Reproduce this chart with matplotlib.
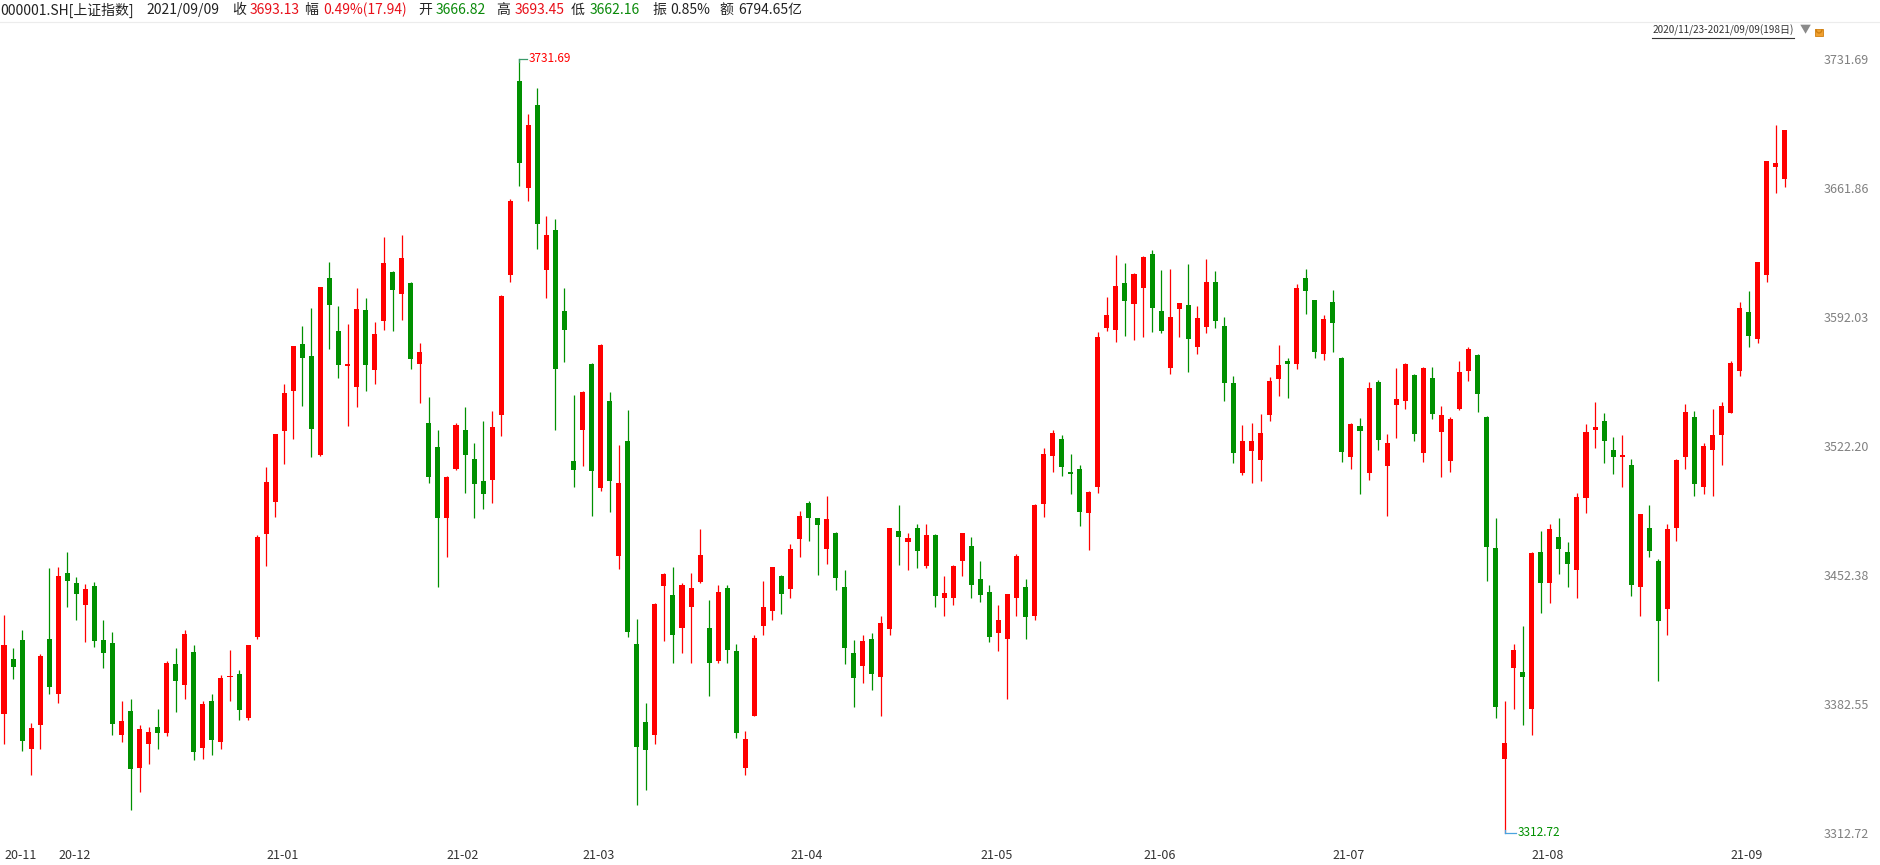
import matplotlib
matplotlib.use('Agg')
import matplotlib.pyplot as plt
from matplotlib.patches import Rectangle, Arc
import numpy as np

plt.rcParams['font.family'] = ['Noto Sans CJK SC', 'DejaVu Sans']

# ---------------- data ----------------
opens = [
    # 2020-11
    3377, 3407, 3417, 3358, 3371, 3417.7,
    # 2020-12
    3388, 3453.5, 3448.1, 3436.3, 3446.4, 3417.2, 3415.6, 3366, 3379, 3348, 3361, 3370,
    3367, 3404, 3393, 3410.7, 3359, 3384, 3362, 3397, 3399, 3375, 3419,
    # 2021-01
    3474.7, 3492, 3530.5, 3552.2, 3577.4, 3570.9, 3517.5, 3613.2, 3584.5, 3565.6,
    3554.3, 3595.8, 3563.6, 3590.0, 3616.4, 3604.7, 3610.4, 3566.8, 3534.7, 3521.7,
    # 2021-02
    3483, 3509.9, 3530.9, 3515, 3503, 3504.0, 3539.2, 3615, 3720, 3662, 3707, 3617.5,
    3639, 3595.3, 3514.1,
    # 2021-03
    3531.0, 3566.6, 3499.7, 3546.6, 3462.8, 3524.9, 3415.1, 3373, 3366, 3446.6, 3441.5,
    3423.9, 3435.2, 3448.8, 3423.7, 3406, 3445.3, 3411, 3348, 3376, 3425, 3433, 3451.8,
    # 2021-04
    3445, 3471.9, 3491.4, 3483.2, 3466.6, 3475.1, 3445.9, 3410, 3403, 3418, 3397, 3423,
    3476, 3470, 3478, 3457, 3474, 3440, 3440, 3460, 3468,
    # 2021-05
    3450, 3443, 3421, 3418, 3440, 3446, 3430, 3491, 3517, 3526, 3508, 3510, 3486, 3500,
    3586.1, 3585.0, 3610.4, 3599.1,
    # 2021-06
    3607.7, 3626.1, 3595.3, 3564.4, 3596.4, 3598.5, 3575.8, 3586.6, 3611, 3587.2, 3556.3,
    3507.6, 3519.5, 3514.6, 3539.0, 3558.5, 3568.2, 3566.6, 3613, 3601.2, 3572.0,
    # 2021-07
    3600.2, 3569.8, 3516.3, 3533.0, 3507.6, 3556.9, 3511.4, 3544.4, 3546.6, 3560.6, 3518.4,
    3559.0, 3529.8, 3514.1, 3542.2, 3562.8, 3571.5, 3537.9, 3467.0, 3353, 3402, 3400,
    # 2021-08
    3380, 3465, 3448, 3473, 3465, 3455, 3494, 3531, 3536, 3520, 3516, 3512, 3446, 3478,
    3460, 3434, 3478, 3516, 3538, 3500, 3520, 3528,
    # 2021-09
    3540, 3563, 3595, 3580, 3615, 3673, 3666.82,
]
highs = [
    3430.7, 3412.7, 3422.6, 3372, 3409.5, 3456.2,
    3456.7, 3464.8, 3451.3, 3447.5, 3448.6, 3428.0, 3421.5, 3384, 3385, 3371, 3370, 3380,
    3406, 3412.9, 3422.6, 3414.5, 3384, 3388, 3398, 3411.8, 3401, 3414.5, 3474,
    3511.0, 3528.9, 3555.8, 3576.4, 3587.2, 3596.9, 3608.5, 3621.8, 3598.0, 3588.3,
    3607.7, 3602.3, 3589.3, 3635.3, 3616.9, 3636.4, 3610.9, 3578.0, 3548.7, 3530.9,
    3506, 3534.7, 3543.3, 3523.8, 3535.8, 3541.2, 3603.8, 3655.8, 3731.69, 3702, 3716,
    3646.6, 3645, 3607.7, 3549.8,
    3552.0, 3567.0, 3577.2, 3551.4, 3522.8, 3541.7, 3428.6, 3383, 3437.2, 3453.5, 3456.7,
    3448.1, 3453.5, 3477.3, 3438.8, 3447, 3447, 3415, 3368, 3420, 3449.1, 3456.7, 3452.2,
    3469.2, 3487.0, 3492.4, 3483.5, 3495.1, 3475.4, 3455.1, 3417, 3420, 3421, 3430, 3478,
    3490, 3475, 3480, 3480, 3474.5, 3452, 3458, 3475, 3473,
    3460, 3447, 3436, 3442, 3464, 3450, 3491, 3521, 3531, 3528, 3518, 3512, 3498, 3583.9,
    3602.9, 3625.6, 3621.3, 3615.8,
    3625.1, 3628.3, 3617.5, 3618.0, 3599.8, 3620.7, 3598.0, 3623.4, 3617, 3592.0, 3560.1,
    3533.6, 3534.7, 3539.5, 3559.6, 3576.9, 3569.8, 3610, 3618, 3601.5, 3593.1,
    3606.7, 3570.2, 3534.5, 3537.4, 3556.9, 3557.9, 3528.7, 3564.4, 3566.9, 3561.0, 3565.0,
    3565.0, 3543.9, 3537.9, 3568.2, 3575.8, 3571.8, 3538.2, 3483.2, 3384, 3415, 3425,
    3465, 3476, 3480, 3483, 3470, 3497, 3534, 3546, 3540, 3527, 3528, 3515, 3485.5, 3490,
    3461, 3480, 3515, 3545, 3541, 3524, 3542, 3546,
    3568, 3600, 3606, 3622, 3676.7, 3696, 3693.45,
]
lows = [
    3361, 3396, 3357, 3344, 3358, 3388,
    3383, 3435.2, 3428.0, 3416.3, 3413.6, 3402.2, 3366, 3362, 3325, 3335, 3350, 3358,
    3365, 3378, 3385, 3352, 3353, 3355, 3358, 3384, 3374, 3374, 3418,
    3457, 3484, 3512.6, 3526.2, 3544.0, 3516.4, 3516.8, 3574.7, 3559.2, 3533.2,
    3543.5, 3552.2, 3556.0, 3585.2, 3584.6, 3590.6, 3564.0, 3545.7, 3502, 3446,
    3462, 3509, 3497, 3483, 3488, 3491.5, 3527.8, 3611, 3663, 3655, 3629, 3602.5,
    3531, 3567.9, 3500.2,
    3511.5, 3484.5, 3498.0, 3486.7, 3455.8, 3419, 3328, 3336, 3361, 3416.8, 3405,
    3410, 3405, 3448.0, 3387, 3405, 3405, 3364, 3344, 3376, 3420, 3428, 3431,
    3440, 3462.3, 3471.0, 3452.6, 3458.5, 3444.3, 3404, 3381, 3394, 3390, 3376, 3420,
    3458, 3455, 3456, 3456, 3435, 3430, 3436, 3452, 3440,
    3438, 3416, 3411, 3385, 3430, 3418, 3428, 3484, 3508, 3506, 3496, 3479, 3466, 3497,
    3584.5, 3578.5, 3581.8, 3579.6,
    3581.2, 3583.9, 3583.4, 3561.2, 3581.2, 3562.3, 3572.0, 3583.4, 3586.1, 3546.6, 3513.0,
    3506.5, 3502.4, 3503.3, 3535.7, 3549.3, 3548.2, 3563.9, 3593.7, 3569.8, 3568.8,
    3573.1, 3513.5, 3509.8, 3496.2, 3503.8, 3520.0, 3484.3, 3526.5, 3542.2, 3524.9, 3513.5,
    3536.8, 3505.4, 3508.1, 3541.9, 3557.4, 3540.6, 3449, 3375, 3312.72, 3380, 3371,
    3366, 3432, 3437, 3453, 3446, 3440, 3486, 3521, 3513, 3507, 3500, 3441, 3430, 3462,
    3395, 3420, 3471, 3510, 3495, 3496, 3495, 3512,
    3540, 3560, 3576, 3578, 3611, 3659, 3662.16,
]
closes = [
    3414.49, 3402.82, 3362.33, 3369.73, 3408.31, 3391.76,
    3451.94, 3449.38, 3442.14, 3444.58, 3416.60, 3410.18, 3371.96, 3373.28, 3347.19,
    3369.12, 3367.23, 3366.98, 3404.87, 3394.90, 3420.57, 3356.78, 3382.32, 3363.11,
    3396.56, 3397.29, 3379.04, 3414.45, 3473.07,
    3502.96, 3528.68, 3550.88, 3576.20, 3570.11, 3531.50, 3608.34, 3598.65, 3565.90,
    3566.38, 3596.22, 3566.28, 3583.09, 3621.26, 3606.75, 3624.24, 3569.43, 3573.34,
    3505.18, 3483.07,
    3505.28, 3533.68, 3517.31, 3501.86, 3496.33, 3532.44, 3603.49, 3655.09, 3675.36,
    3696.17, 3642.44, 3636.36, 3564.08, 3585.05, 3509.08,
    3551.40, 3508.59, 3576.90, 3503.49, 3501.99, 3421.41, 3359.29, 3357.74, 3436.83,
    3453.08, 3419.95, 3446.73, 3445.55, 3463.07, 3404.66, 3443.44, 3411.51, 3367.06,
    3363.59, 3418.33, 3435.30, 3456.68, 3441.91,
    3466.33, 3484.39, 3482.97, 3479.63, 3482.55, 3450.68, 3412.95, 3396.47, 3416.91,
    3398.99, 3426.62, 3477.55, 3472.94, 3472.30, 3465.11, 3474.17, 3441.17, 3442.61,
    3457.07, 3474.90, 3446.86,
    3441.28, 3418.87, 3427.99, 3441.85, 3462.75, 3429.54, 3490.38, 3517.62, 3529.01,
    3510.96, 3506.94, 3486.56, 3497.28, 3581.34, 3593.36, 3608.85, 3600.78, 3615.48,
    3624.71, 3597.14, 3584.22, 3591.84, 3599.54, 3580.11, 3591.40, 3610.86, 3589.75,
    3556.56, 3518.33, 3525.10, 3525.10, 3529.18, 3557.41, 3566.22, 3566.65, 3607.56,
    3606.37, 3573.18, 3591.20,
    3588.78, 3518.76, 3534.32, 3530.26, 3553.72, 3525.50, 3524.09, 3547.84, 3566.59,
    3528.50, 3564.59, 3539.30, 3539.12, 3536.79, 3562.02, 3574.73, 3550.40, 3467.44,
    3381.18, 3361.59, 3411.72, 3397.36,
    3464.29, 3447.99, 3477.22, 3466.56, 3458.23, 3494.63, 3529.93, 3532.62, 3524.74,
    3516.30, 3517.34, 3446.98, 3485.29, 3465.55, 3427.33, 3477.13, 3514.47, 3540.38,
    3501.66, 3522.16, 3528.15, 3543.94,
    3567.10, 3597.04, 3581.73, 3621.86, 3676.59, 3675.19, 3693.13,
]
month_labels = ['20-11', '20-12', '21-01', '21-02', '21-03', '21-04', '21-05', '21-06',
                '21-07', '21-08', '21-09']
month_days = [6, 23, 20, 15, 23, 21, 18, 21, 22, 22, 7]
y_ticks = [3731.69, 3661.86, 3592.03, 3522.20, 3452.38, 3382.55, 3312.72]
y_tick_labels = ['3731.69', '3661.86', '3592.03', '3522.20', '3452.38', '3382.55', '3312.72']
header_items = [
    ('000001.SH[上证指数]', 'dark'), ('2021/09/09', 'dark'),
    ('收', 'dark'), ('3693.13', 'red'), ('幅', 'dark'), ('0.49%(17.94)', 'red'),
    ('开', 'dark'), ('3666.82', 'green'), ('高', 'dark'), ('3693.45', 'red'),
    ('低', 'dark'), ('3662.16', 'green'), ('振', 'dark'), ('0.85%', 'dark'),
    ('额', 'dark'), ('6794.65亿', 'dark'),
]
period_label = '2020/11/23-2021/09/09(198日)'

# ---------------- styles ----------------
RED = '#ff0000'
GREEN = '#009000'
DARK = '#333333'
GRAY = '#808080'
hdr_colors = {'dark': '#222222', 'red': '#e8101a', 'green': '#0a8a0a'}
hdr_x = [0, 146, 232, 250, 304, 323, 418, 436, 496, 515, 571, 590, 652, 670, 719, 738]

W, H = 1880, 865
fig = plt.figure(figsize=(W / 100, H / 100), dpi=100)
fig.patch.set_facecolor('white')

# main price axes (pixel layout)
ax_l, ax_r, ax_t, ax_b = 0, 1806, 40, 846
ax = fig.add_axes([ax_l / W, 1 - ax_b / H, (ax_r - ax_l) / W, (ax_b - ax_t) / H])
px_per_price = (833 - 59) / (y_ticks[0] - y_ticks[-1])
ax.set_ylim(y_ticks[-1] - (ax_b - 833) / px_per_price, y_ticks[0] + (59 - ax_t) / px_per_price)
step = 9.04
ax.set_xlim((ax_l - 4) / step, (ax_r - 4) / step)

o = np.array(opens, float)
h = np.array(highs, float)
l = np.array(lows, float)
c = np.array(closes, float)
idx = np.arange(len(c))
up = c >= o
cols = np.where(up, RED, GREEN)

ax.vlines(idx, l, h, colors=cols, linewidth=0.9, zorder=2)
body_bottom = np.minimum(o, c)
body_h = np.maximum(np.abs(c - o), 1.2 / px_per_price)
ax.bar(idx, body_h, bottom=body_bottom, width=0.56, color=cols, linewidth=0, zorder=3)

for s in ax.spines.values():
    s.set_visible(False)

# y labels on right
ax.yaxis.tick_right()
ax.set_yticks(y_ticks, labels=y_tick_labels)
ax.tick_params(axis='y', length=0, pad=13, labelsize=9, labelcolor=GRAY)

# x labels at first trading day of each month (left aligned)
starts = np.concatenate([[0], np.cumsum(month_days)[:-1]])
ax.set_xticks(starts, labels=month_labels)
for t in ax.get_xticklabels():
    t.set_ha('left')
ax.tick_params(axis='x', length=0, pad=2, labelsize=9, labelcolor=DARK)

# high / low markers
i_hi = int(np.argmax(h))
i_lo = int(np.argmin(l))
ax.plot([i_hi, i_hi + 0.9], [h[i_hi], h[i_hi]], color='#3a9a6a', lw=0.9, zorder=4)
ax.plot([i_hi, i_hi], [h[i_hi], h[i_hi] - 1.5], color='#3a9a6a', lw=0.9, zorder=4)
ax.text(i_hi + 1.0, h[i_hi], f'{h[i_hi]:.2f}', color=RED, fontsize=8.5, va='center', ha='left')
ax.plot([i_lo, i_lo + 1.3], [l[i_lo], l[i_lo]], color='#4aa3df', lw=0.9, zorder=4)
ax.plot([i_lo, i_lo], [l[i_lo], l[i_lo] + 1.5], color='#4aa3df', lw=0.9, zorder=4)
ax.text(i_lo + 1.4, l[i_lo], f'{l[i_lo]:.2f}', color=GREEN, fontsize=8.5, va='center', ha='left')

# overlay for header & decorations in pixel coordinates
ov = fig.add_axes([0, 0, 1, 1], zorder=5)
ov.set_xlim(0, W)
ov.set_ylim(H, 0)
ov.axis('off')
ov.patch.set_alpha(0)

for (txt, kind), x in zip(header_items, hdr_x):
    ov.text(x, 10, txt, color=hdr_colors[kind], fontsize=10, va='center', ha='left')
ov.plot([0, W], [22, 22], color='#ececec', lw=0.8)

# period label: fit its width to the reference span, right edge at 1794 px
target_w = 142.0
pt = ov.text(1794, 30, period_label, color=DARK, fontsize=9, va='center', ha='right')
renderer = fig.canvas.get_renderer()
wpx = pt.get_window_extent(renderer=renderer).width
pt.set_fontsize(9 * target_w / wpx)
ov.plot([1794 - target_w, 1794], [37.5, 37.5], color=DARK, lw=0.8)
ov.text(1800, 30, '▼', color='#8a8a8a', fontsize=8, va='center', ha='left')
ov.add_patch(Rectangle((1815, 29), 8, 7, facecolor='#f0a030', edgecolor='#d08010', lw=0.6))
ov.add_patch(Arc((1819, 29), 6, 8, theta1=0, theta2=180, color='#d08010', lw=1.0))

fig.savefig('out.png', dpi=100, facecolor='white')
